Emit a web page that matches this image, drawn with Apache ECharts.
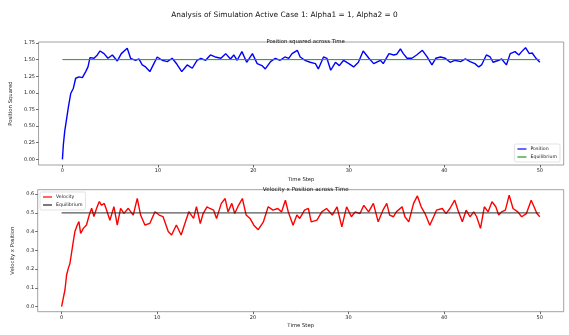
<!DOCTYPE html>
<html><head><meta charset="utf-8">
<script src="https://cdn.jsdelivr.net/npm/echarts@6/dist/echarts.min.js"></script>
<style>html,body{margin:0;padding:0;background:#fff}#c{width:569px;height:335px}</style>
</head><body><div id="c"></div>
<script>
// ---- Data ----
const xTicks = [0, 10, 20, 30, 40, 50];
const posTicks = [0, 0.25, 0.5, 0.75, 1.0, 1.25, 1.5, 1.75];
const velTicks = [0, 0.1, 0.2, 0.3, 0.4, 0.5, 0.6];

const posTime = [0,0.1,0.24,0.42,0.63,0.87,1.15,1.39,1.74,2.09,2.44,2.68,2.89,3.31,3.66,3.94,4.36,4.77,5.23,5.75,6.17,6.79,7.14,7.67,8.01,8.36,8.71,9.16,9.58,9.93,10.45,10.98,11.5,12.0,12.5,13.07,13.6,14.1,
  14.5,15.0,15.5,16.0,16.6,17.1,17.6,17.95,18.3,18.8,19.3,19.9,20.4,20.9,21.25,21.8,22.3,22.8,23.3,23.7,24.05,24.6,24.9,25.4,25.95,26.5,26.8,27.35,27.7,28.1,28.6,29.0,29.45,30.0,30.5,31.0,31.5,32.1,32.6,33.3,
  33.6,34.2,34.7,35.0,35.4,35.7,36.1,36.6,37.1,37.7,38.2,38.7,39.1,39.6,40.1,40.6,41.1,41.7,42.2,42.7,43.2,43.6,43.9,44.4,44.8,45.1,45.7,46.0,46.5,46.9,47.4,47.8,48.1,48.5,48.9,49.2,49.6,50.0];
const positionSquared = [0,0.22,0.42,0.59,0.79,0.99,1.07,1.22,1.24,1.23,1.32,1.39,1.53,1.52,1.57,1.63,1.59,1.52,1.57,1.48,1.59,1.67,1.52,1.49,1.51,1.42,1.39,1.32,1.44,1.54,1.49,1.47,1.52,1.43,1.32,1.42,1.37,1.49,
  1.52,1.49,1.57,1.54,1.52,1.59,1.51,1.57,1.49,1.62,1.46,1.59,1.44,1.41,1.36,1.47,1.52,1.49,1.54,1.52,1.59,1.64,1.54,1.49,1.46,1.44,1.36,1.54,1.52,1.34,1.46,1.41,1.49,1.44,1.39,1.46,1.63,1.52,1.44,1.49,
  1.44,1.59,1.57,1.58,1.66,1.59,1.52,1.52,1.57,1.64,1.54,1.42,1.52,1.54,1.52,1.46,1.49,1.47,1.51,1.47,1.44,1.39,1.42,1.57,1.54,1.46,1.49,1.51,1.42,1.59,1.62,1.57,1.62,1.68,1.59,1.60,1.52,1.46];

const velTime = [0,0.17,0.35,0.52,0.7,0.87,1.05,1.22,1.39,1.64,1.81,1.99,2.27,2.6,2.89,3.14,3.38,3.66,3.94,4.18,4.46,4.7,5.05,5.47,5.82,6.17,6.52,6.97,7.49,7.91,8.26,8.71,9.23,9.76,10.2,10.6,11.15,11.5,12.0,12.5,12.9,13.3,13.8,14.1,
  14.5,14.8,15.2,15.5,15.9,16.2,16.7,17.1,17.4,17.8,18.1,18.5,18.9,19.3,19.7,20.1,20.56,21.1,21.6,22.1,22.6,23.0,23.4,23.7,24.2,24.6,24.9,25.4,25.8,26.1,26.7,27.2,27.7,28.3,28.8,29.3,29.8,30.3,30.7,31.2,31.6,32.1,32.6,33.1,
  33.6,34.0,34.3,34.7,35.0,35.6,35.9,36.3,36.8,37.2,37.6,38.0,38.5,38.9,39.2,39.8,40.2,40.6,41.1,41.5,41.9,42.3,42.7,43.1,43.4,43.8,44.2,44.6,45.0,45.4,45.7,46.0,46.4,46.8,47.2,47.7,48.1,48.6,49.1,49.4,49.7,50.0];
const velocityPosition = [0,0.044,0.089,0.169,0.204,0.23,0.29,0.346,0.40,0.435,0.453,0.39,0.417,0.435,0.488,0.524,0.48,0.524,0.56,0.54,0.55,0.515,0.46,0.533,0.435,0.524,0.497,0.524,0.488,0.577,0.488,0.435,0.444,0.506,0.488,0.48,0.40,0.382,0.435,0.382,0.444,0.506,0.47,0.533,
  0.443,0.496,0.532,0.523,0.514,0.47,0.55,0.576,0.505,0.55,0.496,0.54,0.576,0.488,0.47,0.434,0.41,0.452,0.532,0.514,0.523,0.505,0.567,0.505,0.434,0.488,0.47,0.514,0.523,0.452,0.461,0.505,0.523,0.488,0.532,0.425,0.532,0.479,0.505,0.496,0.54,0.505,0.55,0.452,
  0.514,0.55,0.488,0.479,0.505,0.532,0.479,0.452,0.55,0.59,0.532,0.496,0.434,0.479,0.514,0.523,0.496,0.523,0.567,0.505,0.452,0.514,0.479,0.505,0.479,0.417,0.532,0.505,0.559,0.532,0.488,0.505,0.514,0.594,0.523,0.505,0.479,0.496,0.567,0.532,0.496,0.479];

const eqTime = [0, 50];
const eqPosition = [1.5, 1.5];
const eqVelocity = [0.5, 0.5];

// ---- Build ----
const zip = (a, b) => a.map((v, i) => [v, b[i]]);
const FONT = 'DejaVu Sans';
const chart = echarts.init(document.getElementById('c'), null, {renderer: 'canvas'});

function xAxis(gridIndex) {
  return {
    type: 'value', gridIndex, min: -2.5, max: 52.5, position: 'bottom',
    name: 'Time Step', nameLocation: 'middle', nameGap: 12,
    nameTextStyle: {fontFamily: FONT, fontSize: 5.3, color: '#222'},
    axisLine: {show: false, onZero: false},
    axisTick: {show: true, length: 2.5, customValues: xTicks, lineStyle: {color: '#444', width: 0.8}},
    axisLabel: {fontFamily: FONT, fontSize: 5, color: '#222', margin: 3.5, customValues: xTicks},
    splitLine: {show: false}
  };
}
function yAxis(gridIndex, min, max, ticks, digits, name, gap) {
  return {
    type: 'value', gridIndex, min, max, position: 'left',
    name, nameLocation: 'middle', nameGap: gap,
    nameTextStyle: {fontFamily: FONT, fontSize: 5.3, color: '#222'},
    axisLine: {show: false, onZero: false},
    axisTick: {show: true, length: 2.5, customValues: ticks, lineStyle: {color: '#444', width: 0.8}},
    axisLabel: {fontFamily: FONT, fontSize: 5, color: '#222', margin: 3.5, customValues: ticks,
      formatter: v => Number(v).toFixed(digits)},
    splitLine: {show: false}
  };
}
const legendCommon = {
  orient: 'vertical', icon: 'rect', itemWidth: 9, itemHeight: 1.2, itemGap: 3,
  padding: [2.5, 3, 2.5, 3], backgroundColor: '#fff', borderColor: '#d0d0d0', borderWidth: 0.6, borderRadius: 1.5,
  textStyle: {fontFamily: FONT, fontSize: 4.7, color: '#222', padding: [0, 0, 0, -1]}
};

chart.setOption({
  animation: false,
  backgroundColor: '#fff',
  title: [
    {text: 'Analysis of Simulation Active Case 1: Alpha1 = 1, Alpha2 = 0', left: 'center', top: 6.5,
      textStyle: {fontFamily: FONT, fontSize: 7.4, fontWeight: 'normal', color: '#111'}},
    {text: 'Position squared across Time', left: 300.7, textAlign: 'center', top: 34.5,
      textStyle: {fontFamily: FONT, fontSize: 5.4, fontWeight: 'normal', color: '#111'}},
    {text: 'Velocity x Position across Time', left: 300.7, textAlign: 'center', top: 181.3,
      textStyle: {fontFamily: FONT, fontSize: 5.6, fontWeight: 'normal', color: '#111'}}
  ],
  grid: [
    {left: 37.7, top: 42, width: 526, height: 123, show: true, borderColor: '#8a8a8a', borderWidth: 0.8, backgroundColor: 'transparent'},
    {left: 37.7, top: 189.7, width: 526, height: 122, show: true, borderColor: '#8a8a8a', borderWidth: 0.8, backgroundColor: 'transparent'}
  ],
  xAxis: [xAxis(0), Object.assign(xAxis(1), {nameGap: 11})],
  yAxis: [
    yAxis(0, -0.085, 1.765, posTicks, 2, 'Position Squared', 18),
    yAxis(1, -0.0266, 0.6230, velTicks, 1, 'Velocity x Position', 15)
  ],
  legend: [
    Object.assign({}, legendCommon, {right: 9, bottom: 173,
      data: [{name: 'Position', itemStyle: {color: '#0000ff'}},
             {name: 'Equilibrium', itemStyle: {color: '#1f9a1f'}}]}),
    Object.assign({}, legendCommon, {left: 40, top: 192,
      data: [{name: 'Velocity', itemStyle: {color: '#ff0000'}},
             {name: 'Equilibrium', itemStyle: {color: '#222'}}]})
  ],
  series: [
    {name: 'Equilibrium', type: 'line', xAxisIndex: 0, yAxisIndex: 0, data: zip(eqTime, eqPosition),
      symbol: 'none', lineStyle: {color: '#1f9a1f', width: 1}, itemStyle: {color: '#1f9a1f'}, z: 3},
    {name: 'Position', type: 'line', xAxisIndex: 0, yAxisIndex: 0, data: zip(posTime, positionSquared),
      symbol: 'none', lineStyle: {color: '#0000ff', width: 1.4}, itemStyle: {color: '#0000ff'}, z: 2},
    {name: 'Velocity', type: 'line', xAxisIndex: 1, yAxisIndex: 1, data: zip(velTime, velocityPosition),
      symbol: 'none', lineStyle: {color: '#ff0000', width: 1.4}, itemStyle: {color: '#ff0000'}, z: 2},
    {name: 'Equilibrium', type: 'line', xAxisIndex: 1, yAxisIndex: 1, data: zip(eqTime, eqVelocity),
      symbol: 'none', lineStyle: {color: '#222', width: 1.2, opacity: 0.75}, itemStyle: {color: '#222'}, z: 3}
  ]
});
</script>
</body></html>
